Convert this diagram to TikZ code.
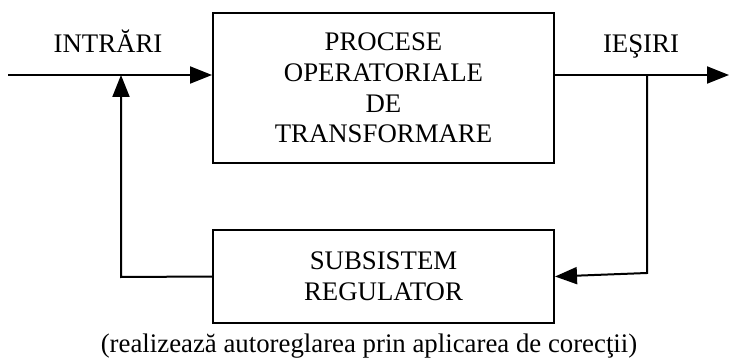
\documentclass[tikz,border=0pt]{standalone}
\usepackage{fontspec}
\setmainfont{Liberation Serif}
\usepackage{tikz}
\usetikzlibrary{arrows.meta,positioning}

\begin{document}
\begin{tikzpicture}[
			x=0.5pt, y=-0.5pt,
			line width=1pt,
			block/.style={draw, line width=1pt, minimum width=170.5pt, align=center,
				font=\fontsize{13.4}{15.4}\selectfont},
			lbl/.style={anchor=base, font=\fontsize{13.4}{15.4}\selectfont},
			flow/.style={-{Triangle[length=11pt,width=8.5pt]}}
			]
			\useasboundingbox (0,0) rectangle (729,358);
			% Blocks
			\node[block, minimum height=75pt] (proc) at (383.5,88) {PROCESE\\OPERATORIALE\\DE\\TRANSFORMARE};
			\node[block, minimum height=46.5pt] (reg) at (383.5,276.5) {SUBSISTEM\\REGULATOR};
			% Helper points
			\coordinate (in) at (8,75);
			\coordinate (join) at (121,75);
			\coordinate (joinlow) at (121,277);
			\coordinate (branch) at (647,75);
			\coordinate (branchlow) at (647,273);
			\coordinate (out) at (729,75);
			% Input and output
			\draw[flow] (in) -- (in -| proc.west);
			\draw[flow] (proc.east |- out) -- (out);
			\node[lbl] (intrari) at (108,53) {INTRĂRI};
			\node[lbl] (iesiri) at (641,53) {IEŞIRI};
			% Feedback loop
			\draw[flow] (branch) -- (branchlow) -- (reg.east);
			\draw[flow] (reg.west) -- (joinlow) -- (join);
			% Caption
			\node[lbl] (note) at (369,352) {(realizează autoreglarea prin aplicarea de corecţii)};
		\end{tikzpicture}
\end{document}
